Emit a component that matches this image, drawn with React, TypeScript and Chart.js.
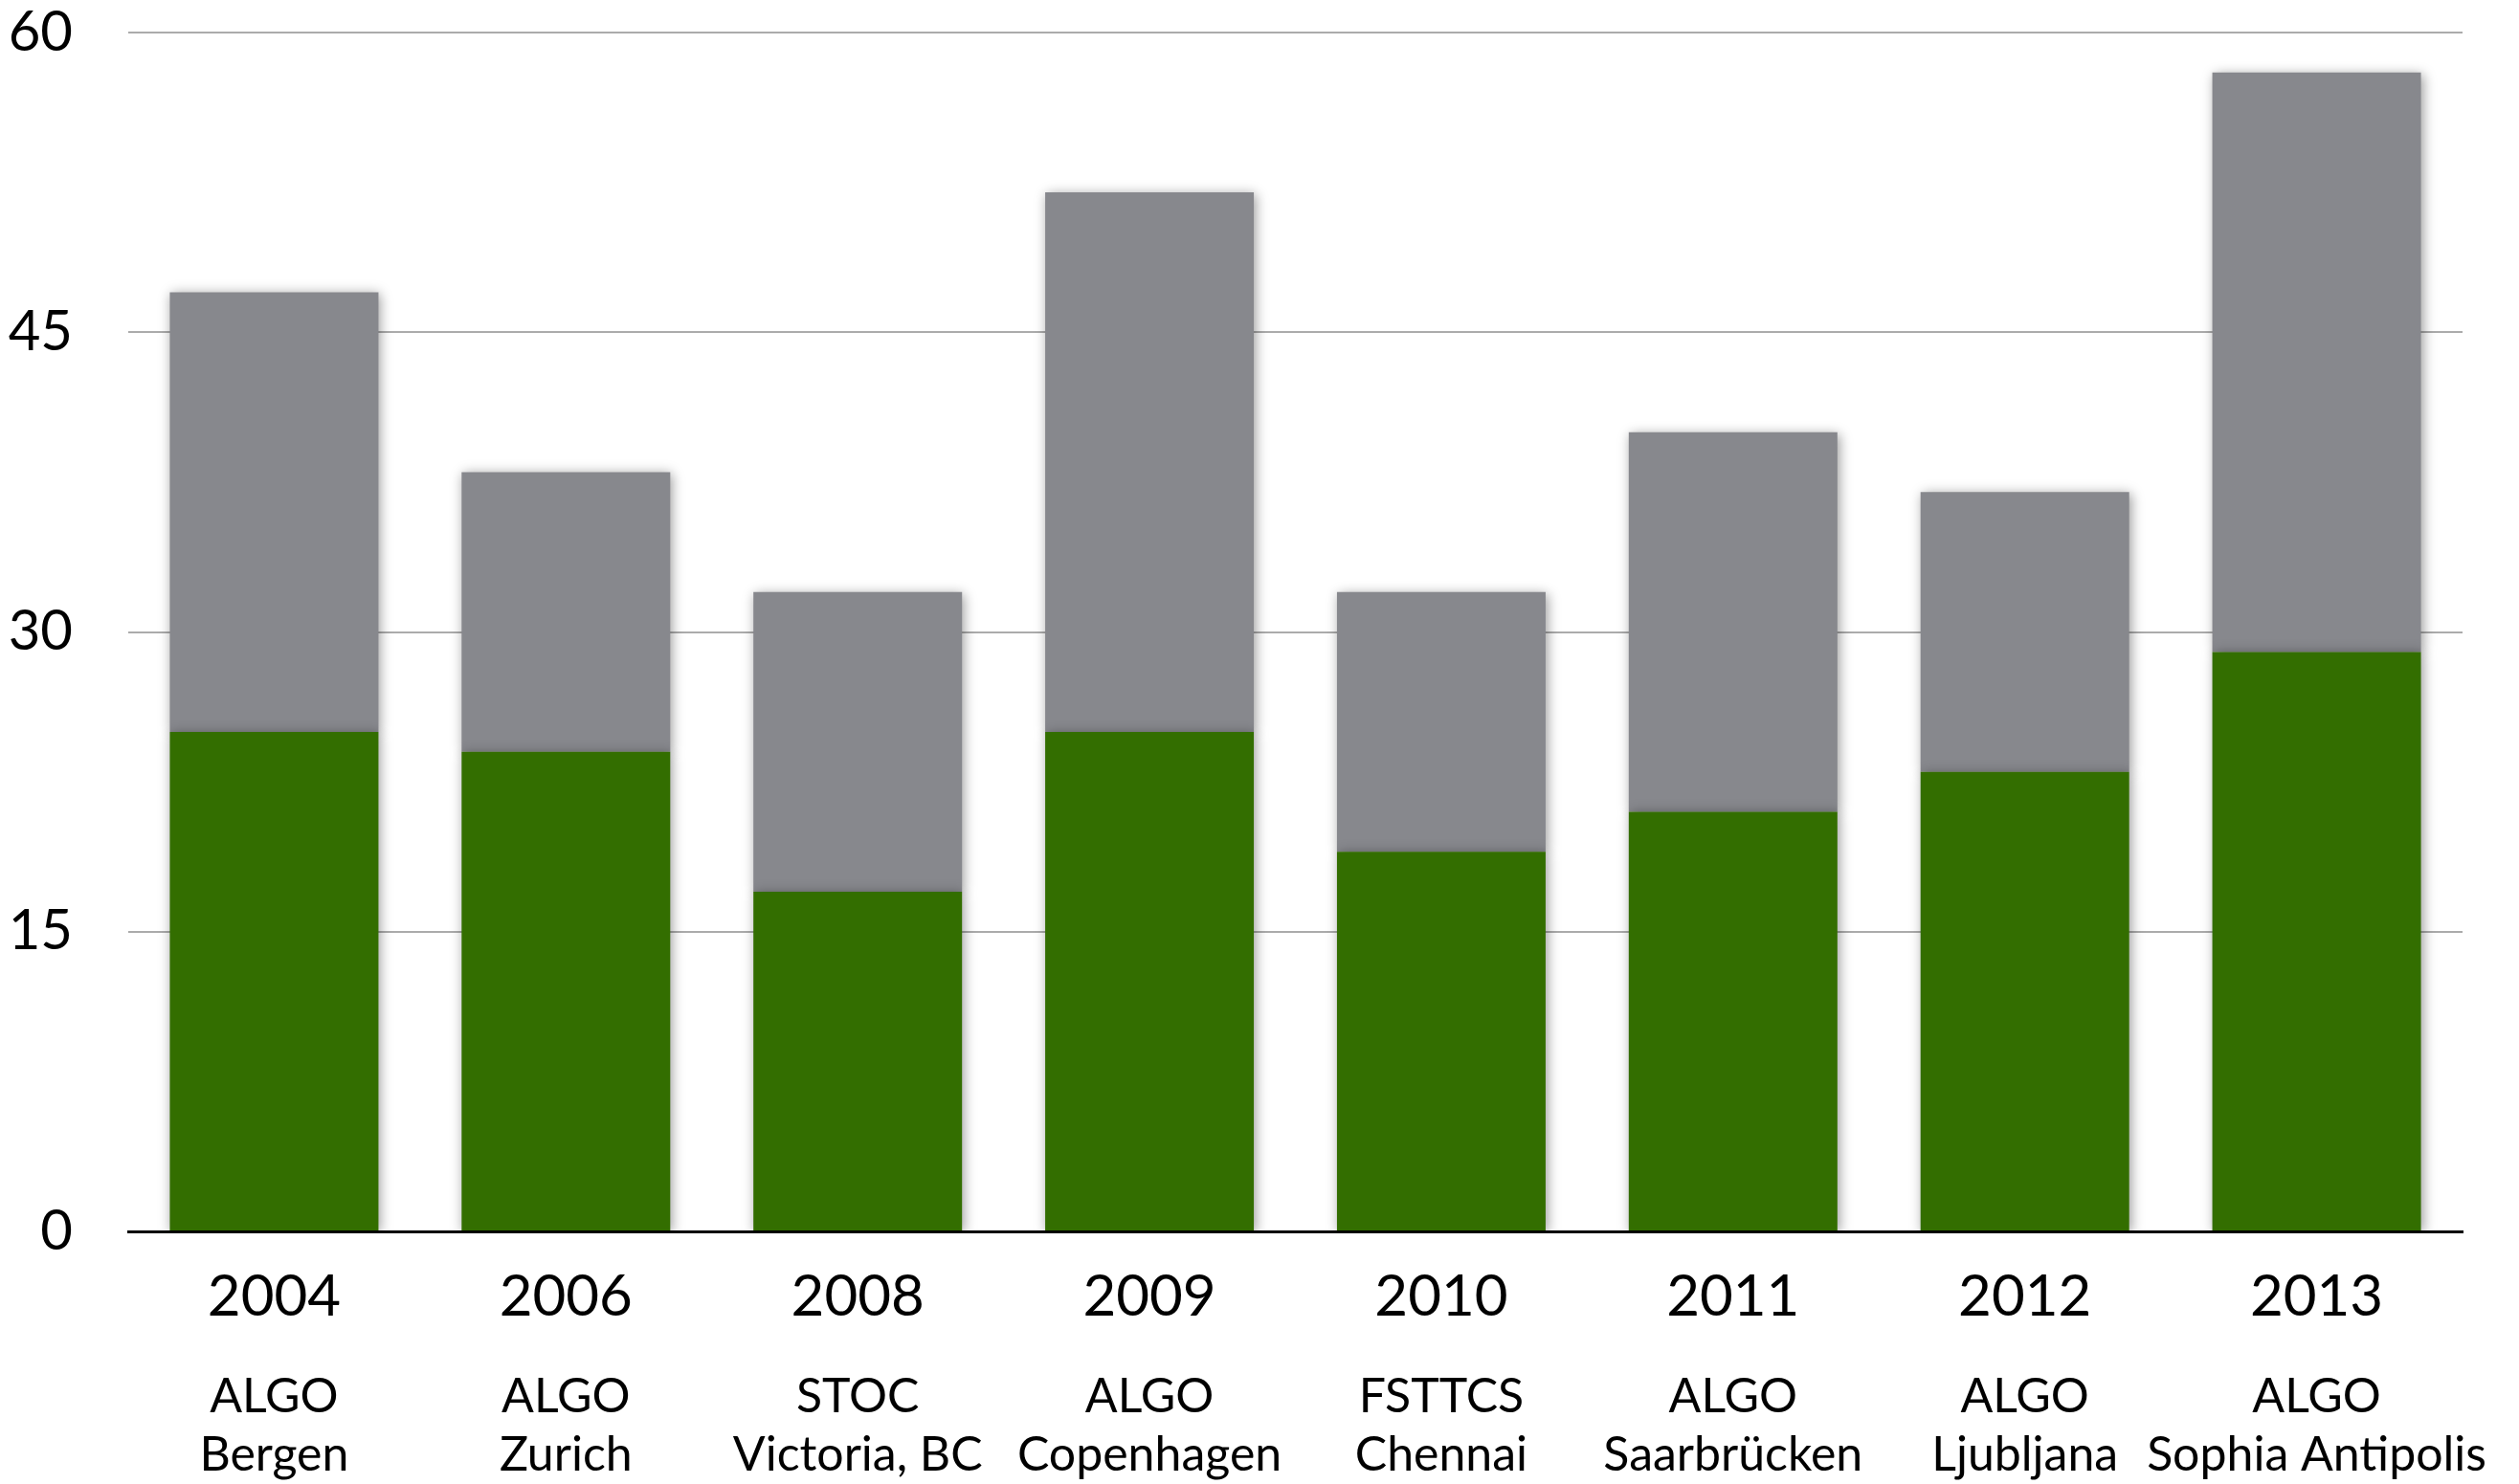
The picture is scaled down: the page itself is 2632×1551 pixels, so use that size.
import React, { useEffect, useRef } from "react";
import { Chart, registerables } from "chart.js";

Chart.register(...registerables);

const years = ["2004", "2006", "2008", "2009", "2010", "2011", "2012", "2013"];
const venues = ["ALGO", "ALGO", "STOC", "ALGO", "FSTTCS", "ALGO", "ALGO", "ALGO"];
const cities = ["Bergen", "Zurich", "Victoria, BC", "Copenhagen", "Chennai", "Saarbrücken", "Ljubljana", "Sophia Antipolis"];
const greenValues = [25, 24, 17, 25, 19, 21, 23, 29];
const grayValues = [22, 14, 15, 27, 13, 19, 14, 29];
const yTicks = [0, 15, 30, 45, 60];

const FONT = "Lato";

const shadowPlugin = {
  id: "barShadow",
  beforeDatasetsDraw(chart: any) {
    const ctx = chart.ctx;
    ctx.save();
    ctx.shadowColor = "rgba(0,0,0,0.4)";
    ctx.shadowBlur = 12;
    ctx.shadowOffsetX = 2;
    ctx.shadowOffsetY = 2;
  },
  afterDatasetsDraw(chart: any) {
    chart.ctx.restore();
  },
};

export default function App() {
  const ref = useRef<HTMLCanvasElement | null>(null);

  useEffect(() => {
    if (!ref.current) return;
    const chart = new Chart(ref.current, {
      type: "bar",
      data: {
        labels: years,
        datasets: [
          { label: "green", data: greenValues, backgroundColor: "#336e00", borderWidth: 0 },
          { label: "gray", data: grayValues, backgroundColor: "#87888d", borderWidth: 0 },
        ],
      },
      options: {
        animation: false,
        responsive: true,
        maintainAspectRatio: false,
        layout: { padding: { left: 0, right: 59, top: 34, bottom: 0 } },
        datasets: { bar: { barPercentage: 0.715, categoryPercentage: 1 } },
        plugins: { legend: { display: false }, tooltip: { enabled: false } },
        scales: {
          x: {
            stacked: true,
            position: "bottom",
            weight: 0,
            z: 1,
            offset: true,
            grid: { display: false, drawTicks: false },
            border: { display: true, color: "#000", width: 3 },
            ticks: {
              color: "#000",
              font: { family: FONT, size: 60 },
              padding: 33,
              autoSkip: false,
              maxRotation: 0,
              minRotation: 0,
            },
            afterFit(scale: any) {
              scale.height = 100;
              scale.paddingLeft = 0;
              scale.paddingRight = 0;
            },
          },
          x2: {
            type: "category",
            position: "bottom",
            weight: 1,
            offset: true,
            labels: venues.map((v, i) => [v, cities[i]]),
            grid: { display: false, drawTicks: false },
            border: { display: false },
            ticks: {
              color: "#000",
              font: { family: FONT, size: 50, lineHeight: 1.22 },
              padding: 42,
              autoSkip: false,
              maxRotation: 0,
              minRotation: 0,
            },
            afterFit(scale: any) {
              scale.height = 164;
              scale.paddingLeft = 0;
              scale.paddingRight = 0;
            },
          },
          y: {
            stacked: true,
            min: 0,
            max: 60,
            afterBuildTicks(scale: any) {
              scale.ticks = yTicks.map((v) => ({ value: v }));
            },
            grid: {
              drawTicks: false,
              lineWidth: 2,
              color: (c: any) => (c.tick && c.tick.value === 0 ? "rgba(0,0,0,0)" : "#ababab"),
            },
            border: { display: false },
            ticks: {
              color: "#000",
              font: { family: FONT, size: 58 },
              padding: 58,
            },
            afterFit(scale: any) {
              scale.width = 134;
              scale.paddingTop = 0;
              scale.paddingBottom = 0;
            },
          },
        },
      } as any,
      plugins: [shadowPlugin],
    });
    return () => chart.destroy();
  }, []);

  return (
    <div style={{ position: "fixed", left: 0, top: 0, width: 2632, height: 1551, background: "#fff" }}>
      <canvas ref={ref} />
    </div>
  );
}
